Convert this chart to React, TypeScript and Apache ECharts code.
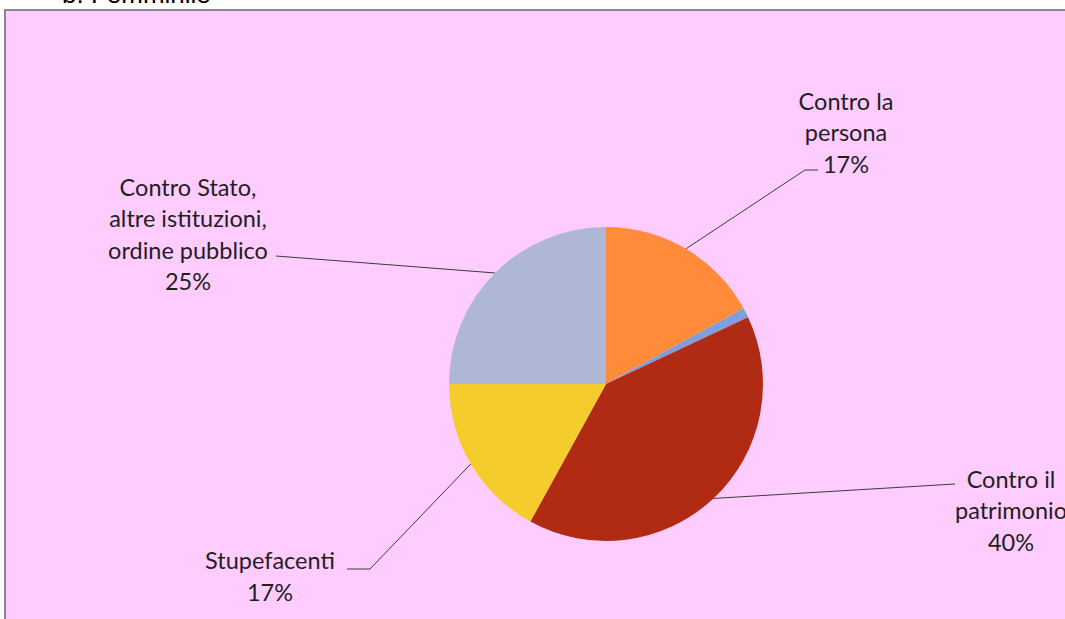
import React, { useEffect, useRef } from 'react';
import * as echarts from 'echarts';

const title = 'b. Femminile';
const categories = [
  'Contro la\npersona',
  'Altri reati',
  'Contro il\npatrimonio',
  'Stupefacenti',
  'Contro Stato,\naltre istituzioni,\nordine pubblico',
];
const values = [17, 1, 40, 17, 25];
const showLabel = [true, false, true, true, true];
const colors = ['#FF8B3B', '#7E9EDC', '#B12A14', '#F4CD2C', '#AEB8D5'];

// label placement (styling only)
const labelPlacement: any[] = [
  { x: 846, y: 132, line: [[805, 170], [818, 170]] },
  null,
  { x: 1011, y: 510, line: [[955, 484]] },
  { x: 270, y: 576, line: [[370, 569], [347, 569]] },
  { x: 188, y: 234, line: [[276, 256]] },
];

const FONT = 'Lato, "Open Sans", sans-serif';

export default function App() {
  const ref = useRef<HTMLDivElement>(null);
  useEffect(() => {
    if (!ref.current) return;
    const chart = echarts.init(ref.current, undefined, { renderer: 'svg' });
    const data = categories.map((name, i) => ({
      name,
      value: values[i],
      itemStyle: { color: colors[i] },
      label: { show: showLabel[i] },
      labelLine: { show: showLabel[i] },
    }));
    chart.setOption({
      animation: false,
      backgroundColor: '#ffffff',
      graphic: [
        {
          type: 'rect',
          z: -10,
          shape: { x: 5, y: 10, width: 1300, height: 800 },
          style: { fill: '#FFCCFF', stroke: '#888888', lineWidth: 2 },
        },
        {
          type: 'text',
          z: -5,
          style: {
            text: title,
            x: 62,
            y: 7,
            verticalAlign: 'bottom',
            font: '26px "Liberation Sans", Arial, sans-serif',
            fill: '#000000',
          },
        },
      ],
      series: [
        {
          type: 'pie',
          center: [606, 384],
          radius: 157,
          startAngle: 90,
          clockwise: true,
          avoidLabelOverlap: false,
          data,
          itemStyle: { borderWidth: 0 },
          label: {
            show: true,
            position: 'outside',
            formatter: (p: any) => `${p.name}\n${p.value}%`,
            fontFamily: FONT,
            fontSize: 23.5,
            lineHeight: 31.5,
            color: '#1f1f1f',
            align: 'center',
          },
          labelLine: {
            show: true,
            length: 20,
            length2: 20,
            smooth: false,
            lineStyle: { color: '#3a3a3a', width: 1 },
          },
          labelLayout: (params: any) => {
            const p = labelPlacement[params.dataIndex];
            if (!p) return {};
            const pts = params.labelLinePoints;
            const start = pts && pts[0] ? pts[0] : null;
            const out: any = { x: p.x, y: p.y, align: 'center', verticalAlign: 'middle' };
            if (start) out.labelLinePoints = [start, ...p.line];
            return out;
          },
        },
      ],
    });
    return () => chart.dispose();
  }, []);
  return (
    <div
      ref={ref}
      style={{ position: 'fixed', left: 0, top: 0, width: 1065, height: 619 }}
    />
  );
}
